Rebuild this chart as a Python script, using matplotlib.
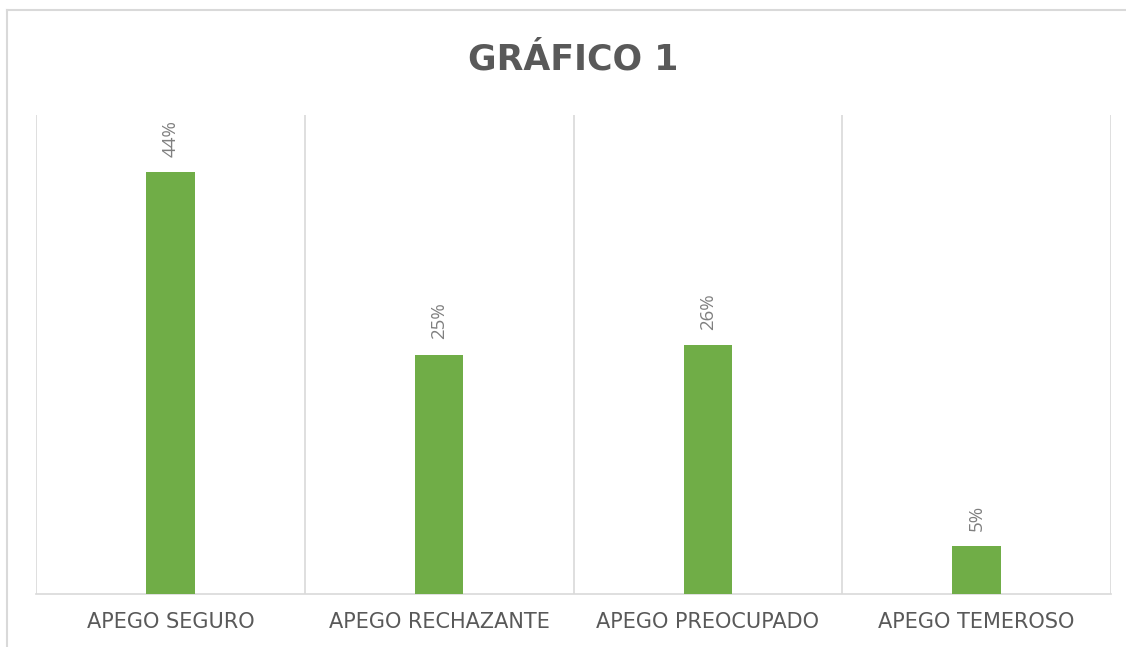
import matplotlib.pyplot as plt
import numpy as np
from matplotlib.lines import Line2D

categorias = ["APEGO SEGURO", "APEGO RECHAZANTE", "APEGO PREOCUPADO", "APEGO TEMEROSO"]
valores = [0.44, 0.25, 0.26, 0.05]
etiquetas = ["44%", "25%", "26%", "5%"]

verde = "#70AD47"
gris_linea = "#D9D9D9"
gris_texto = "#595959"

fig = plt.figure(figsize=(11.26, 6.47), dpi=100)
ax = fig.add_axes([36 / 1126, 1 - 594 / 647, 1075 / 1126, 479 / 647])

x = np.arange(len(categorias))
ax.bar(x, valores, width=0.18, color=verde, zorder=3)

for xi, v, t in zip(x, valores, etiquetas):
    ax.annotate(t, (xi, v), xytext=(0, 11), textcoords="offset points",
                rotation=90, ha="center", va="bottom", color="#7F7F7F",
                fontsize=13.5, family="Open Sans")

ax.set_xlim(-0.5, len(categorias) - 0.5)
ax.set_ylim(0, 0.5)

# separadores verticales entre categorias
for b in np.arange(-0.5, len(categorias), 1):
    ax.axvline(b, color=gris_linea, lw=1.2, zorder=1)

for s in ["top", "right", "left"]:
    ax.spines[s].set_visible(False)
ax.spines["bottom"].set_color(gris_linea)
ax.spines["bottom"].set_linewidth(1.2)
ax.set_yticks([])
ax.set_xticks(x)
ax.set_xticklabels(categorias, color=gris_texto, fontsize=15, family="DejaVu Sans")
ax.tick_params(axis="x", length=0, pad=13)

fig.text(573.5 / 1126, 1 - 59 / 647, "GRÁFICO 1", ha="center", va="center",
         fontsize=25, fontweight="bold", color=gris_texto, family="DejaVu Sans")

# borde del area del grafico
fig.add_artist(Line2D([7 / 1126, 1], [1 - 10 / 647, 1 - 10 / 647],
                      transform=fig.transFigure, color=gris_linea, lw=1.5))
fig.add_artist(Line2D([7 / 1126, 7 / 1126], [0, 1 - 10 / 647],
                      transform=fig.transFigure, color=gris_linea, lw=1.5))

fig.savefig("out.png", dpi=100)
